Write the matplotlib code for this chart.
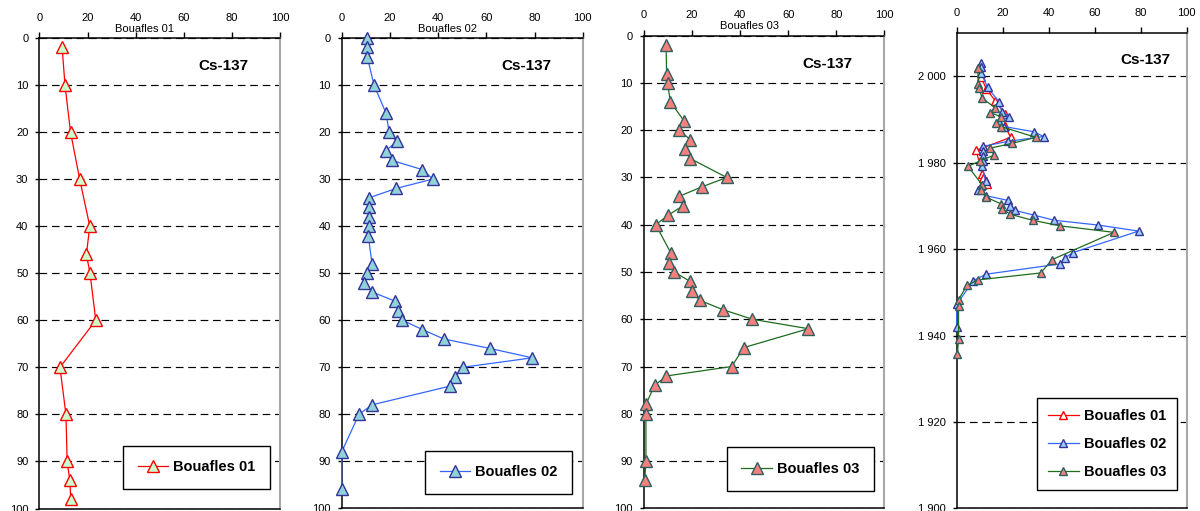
import matplotlib
matplotlib.use("Agg")
import matplotlib.pyplot as plt
from matplotlib.ticker import FuncFormatter, MultipleLocator

plt.rcParams['font.family'] = ['Liberation Sans', 'DejaVu Sans']

# Cs-137 activity profiles versus depth (cm) for three cores
depth01 = [2, 10, 20, 30, 40, 46, 50, 60, 70, 80, 90, 94, 98]
cs01 = [9.4, 10.6, 12.9, 16.7, 20.9, 19.5, 21.0, 23.4, 8.5, 11.0, 11.5, 12.6, 13.0]
year01 = [2002.0, 1999.8, 1997.1, 1994.4, 1991.3, 1989.7, 1988.6, 1985.9,
          1982.9, 1977.4, 1976.5, 1975.8, 1975.1]

depth02 = [0, 2, 4, 10, 16, 20, 22, 24, 26, 28, 30, 32, 34, 36, 38, 40, 42,
           48, 50, 52, 54, 56, 58, 60, 62, 64, 66, 68, 70, 72, 74, 78, 80, 88, 96]
cs02 = [10.4, 10.6, 10.6, 13.4, 18.4, 19.7, 22.8, 18.3, 20.7, 33.5, 37.8, 22.5,
        11.3, 11.5, 11.5, 11.5, 11.0, 12.6, 10.4, 9.1, 12.6, 22.3, 23.2, 25.2,
        33.5, 42.4, 61.4, 79.1, 50.5, 47.1, 45.1, 12.6, 7.2, 0.0, 0.0]
year02 = [2003.2, 2002.1, 2000.9, 1997.5, 1994.1, 1991.8, 1990.7, 1989.5,
          1988.4, 1987.2, 1986.1, 1985.0, 1983.8, 1982.7, 1981.5, 1980.4,
          1979.3, 1975.8, 1974.7, 1973.6, 1972.4, 1971.3, 1970.1, 1969.0,
          1967.9, 1966.7, 1965.6, 1964.2, 1959.2, 1958.0, 1956.6, 1954.2,
          1952.7, 1947.2, 1942.0]

depth03 = [2, 8, 10, 14, 18, 20, 22, 24, 26, 30, 32, 34, 36, 38, 40, 46, 48,
           50, 52, 54, 56, 58, 60, 62, 66, 70, 72, 74, 78, 80, 90, 94]
cs03 = [9.2, 9.4, 9.8, 11.0, 16.6, 14.6, 19.3, 16.9, 19.3, 34.4, 24.0, 14.6,
        16.2, 10.0, 4.9, 11.2, 10.5, 12.6, 19.2, 19.8, 23.2, 33.0, 45.1, 68.4,
        41.5, 36.5, 9.3, 4.4, 0.8, 0.8, 0.8, 0.3]
year03 = [2001.9, 1998.2, 1997.3, 1995.0, 1992.8, 1991.6, 1990.7, 1989.3,
          1988.4, 1985.9, 1984.5, 1983.4, 1981.8, 1980.4, 1979.2, 1974.8,
          1973.6, 1972.1, 1970.5, 1969.4, 1968.1, 1966.7, 1965.4, 1963.9,
          1957.6, 1954.5, 1952.9, 1951.6, 1948.3, 1946.8, 1939.1, 1935.7]

names = ["Bouafles 01", "Bouafles 02", "Bouafles 03"]
title = "Cs-137"

# styles: line colour, marker face, marker edge
st01 = dict(color="#FF0000", mfc="#CCFFCC", mec="#FF0000")
st02 = dict(color="#3366FF", mfc="#8FD3D8", mec="#333399")
st03 = dict(color="#1E6B1E", mfc="#F4807C", mec="#2F5F5F")
st01_date = dict(color="#FF0000", mfc="#FFFFFF", mec="#FF0000")
st02_date = dict(color="#3366FF", mfc="#99CCFF", mec="#333399")

W, H = 1200, 511
fig = plt.figure(figsize=(W / 100, H / 100), dpi=100)


def add_axes(l, r, t, b):
    return fig.add_axes([l / W, (H - b) / H, (r - l) / W, (b - t) / H])


def style(ax, ystep):
    ax.set_xlim(0, 100)
    ax.xaxis.set_major_locator(MultipleLocator(20))
    ax.yaxis.set_major_locator(MultipleLocator(ystep))
    ax.xaxis.tick_top()
    ax.tick_params(axis='x', direction='out', length=4, width=1, pad=7,
                   labelsize=8, colors='black')
    ax.tick_params(axis='y', direction='out', length=3, width=1, pad=5,
                   labelsize=8, colors='black')
    for s in ("left", "top", "bottom"):
        ax.spines[s].set_color("black")
        ax.spines[s].set_linewidth(1.1)
    ax.spines["right"].set_color("#A8A8A8")
    ax.spines["right"].set_linewidth(1.5)
    ax.grid(axis='y', color='black', linestyle=(0, (6.5, 4)), linewidth=0.85)
    ax.set_axisbelow(True)


def legend(ax, handles, cx, cy, borderpad=1.0, labelspacing=1.0):
    lg = ax.legend(handles=handles, loc='center', bbox_to_anchor=(cx, cy),
                   prop=dict(weight='bold', size=10.5), frameon=True,
                   fancybox=False, framealpha=1, edgecolor='black',
                   borderpad=borderpad, handlelength=2.1, handletextpad=0.35,
                   labelspacing=labelspacing, numpoints=1)
    lg.get_frame().set_linewidth(1.0)
    return lg


depth_panels = [
    (depth01, cs01, st01, names[0], (39.5, 280, 38, 508.5), 0.653, 0.088),
    (depth02, cs02, st02, names[1], (341.7, 582.7, 38, 508.3), 0.651, 0.077),
    (depth03, cs03, st03, names[2], (644, 884.3, 35.7, 508.3), 0.651, 0.083),
]

for d, v, st, name, box, lx, ly in depth_panels:
    ax = add_axes(*box)
    style(ax, 10)
    ax.set_ylim(100, 0)
    line, = ax.plot(v, d, '-', marker='^', ms=8, lw=0.9, mew=1.0,
                    clip_on=False, zorder=3, label=name, **st)
    ax.text(0.437, 1.02, name, transform=ax.transAxes, ha='center',
            va='center', fontsize=8)
    ax.text(0.765, 0.94, title, transform=ax.transAxes, ha='center',
            va='center', fontsize=11, fontweight='bold')
    legend(ax, [line], lx, ly)

# Dated profiles
ax = add_axes(956.7, 1186.7, 33.3, 508.3)
style(ax, 20)
ax.set_ylim(1900, 2010)
ax.yaxis.set_major_formatter(
    FuncFormatter(lambda y, _: "{:,}".format(int(round(y))).replace(",", " ")))
h1, = ax.plot(cs01, year01, '-', marker='^', ms=5.5, lw=0.9, mew=1.0,
              clip_on=False, zorder=3, label=names[0], **st01_date)
h2, = ax.plot(cs02, year02, '-', marker='^', ms=5.5, lw=0.9, mew=1.0,
              clip_on=False, zorder=4, label=names[1], **st02_date)
h3, = ax.plot(cs03, year03, '-', marker='^', ms=5.5, lw=0.9, mew=1.0,
              clip_on=False, zorder=5, label=names[2], **st03)
ax.text(0.819, 0.944, title, transform=ax.transAxes, ha='center',
        va='center', fontsize=11, fontweight='bold')
legend(ax, [h1, h2, h3], 0.6535, 0.1354, borderpad=0.75, labelspacing=0.95)

fig.savefig("out.png", dpi=100)
